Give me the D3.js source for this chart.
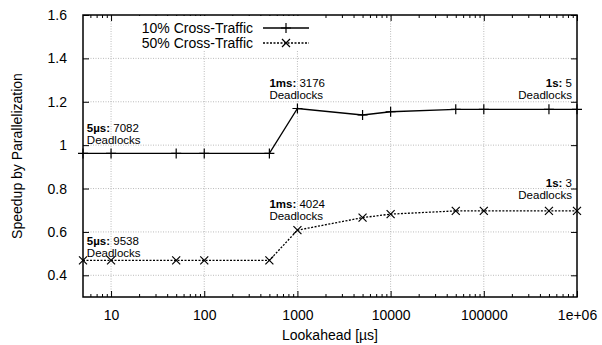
<!DOCTYPE html>
<html>
<head>
<meta charset="utf-8">
<script src="https://cdn.jsdelivr.net/npm/d3@7"></script>
<style>
  body { margin: 0; background: #fff; }
  svg { display: block; font-family: "Liberation Sans", Arial, Helvetica, sans-serif; }
</style>
</head>
<body>
<svg id="chart" width="602" height="345"></svg>
<script>
// lookahead values in µs
const lookahead = [5, 10, 50, 100, 500, 1000, 5000, 10000, 50000, 100000, 500000, 1000000];
const speedup10 = [0.962, 0.962, 0.962, 0.962, 0.962, 1.169, 1.139, 1.154, 1.165, 1.165, 1.165, 1.165];
const speedup50 = [0.469, 0.469, 0.469, 0.469, 0.469, 0.608, 0.666, 0.682, 0.697, 0.697, 0.697, 0.697];

const seriesNames = ["10% Cross-Traffic", "50% Cross-Traffic"];
const xTicks = [10, 100, 1000, 10000, 100000, 1000000];
const yTicks = [0.4, 0.6, 0.8, 1.0, 1.2, 1.4, 1.6];

// deadlock notes: anchor (x in µs, y speedup), bold part, rest
const notes = [
  { x: 5.5, y: 1.06, bold: "5µs:", rest: " 7082", anchor: "start" },
  { x: 500, y: 1.268, bold: "1ms:", rest: " 3176", anchor: "start" },
  { x: 884000, y: 1.268, bold: "1s:", rest: " 5", anchor: "end" },
  { x: 5.5, y: 0.538, bold: "5µs:", rest: " 9538", anchor: "start" },
  { x: 500, y: 0.708, bold: "1ms:", rest: " 4024", anchor: "start" },
  { x: 884000, y: 0.805, bold: "1s:", rest: " 3", anchor: "end" }
];

const width = 602, height = 345;
const margin = { top: 15, right: 25, bottom: 48, left: 83 };
const svg = d3.select("#chart");

const x = d3.scaleLog().domain([5, 1e6]).range([margin.left, width - margin.right]);
const y = d3.scaleLinear().domain([0.3, 1.6]).range([height - margin.bottom, margin.top]);

const x0 = margin.left, x1 = width - margin.right;
const y0 = height - margin.bottom, y1 = margin.top;

// grid
const grid = svg.append("g")
  .attr("stroke", "#aaa")
  .attr("stroke-width", 0.8)
  .attr("stroke-dasharray", "1,1.5");
grid.selectAll("line.gx")
  .data(xTicks.filter(d => d < 1e6))
  .enter().append("line")
  .attr("x1", d => x(d)).attr("x2", d => x(d))
  .attr("y1", y0).attr("y2", y1);
grid.selectAll("line.gy")
  .data(yTicks.filter(d => d < 1.6))
  .enter().append("line")
  .attr("x1", x0).attr("x2", x1)
  .attr("y1", d => y(d)).attr("y2", d => y(d));

// axes (ticks inward on all sides)
const minor = x.ticks().filter(d => !xTicks.includes(d) && d > 5);
const fmtX = d => d === 1e6 ? "1e+06" : String(d);
const fmtY = d => d3.format("")(+d.toFixed(1));

svg.append("g")
  .attr("transform", `translate(0,${y0})`)
  .call(d3.axisBottom(x).tickValues(xTicks).tickFormat(fmtX).tickSize(-6).tickPadding(13))
  .call(g => g.select(".domain").remove());
svg.append("g")
  .attr("transform", `translate(0,${y0})`)
  .call(d3.axisBottom(x).tickValues(minor).tickFormat("").tickSize(-3))
  .call(g => g.select(".domain").remove());
svg.append("g")
  .attr("transform", `translate(0,${y1})`)
  .call(d3.axisTop(x).tickValues(xTicks).tickFormat("").tickSize(-6))
  .call(g => g.select(".domain").remove());
svg.append("g")
  .attr("transform", `translate(0,${y1})`)
  .call(d3.axisTop(x).tickValues(minor).tickFormat("").tickSize(-3))
  .call(g => g.select(".domain").remove());
svg.append("g")
  .attr("transform", `translate(${x0},0)`)
  .call(d3.axisLeft(y).tickValues(yTicks).tickFormat(fmtY).tickSize(-6).tickPadding(16))
  .call(g => g.select(".domain").remove());
svg.append("g")
  .attr("transform", `translate(${x1},0)`)
  .call(d3.axisRight(y).tickValues(yTicks).tickFormat("").tickSize(-6))
  .call(g => g.select(".domain").remove());

svg.selectAll(".tick line").attr("stroke", "#000").attr("stroke-width", 1);
svg.selectAll(".tick text")
  .attr("fill", "#000")
  .style("font-size", "14px")
  .style("font-family", "Liberation Sans, Arial, sans-serif");

svg.append("rect")
  .attr("x", x0).attr("y", y1)
  .attr("width", x1 - x0).attr("height", y0 - y1)
  .attr("fill", "none").attr("stroke", "#000").attr("stroke-width", 1.5);

// axis titles
svg.append("text")
  .attr("x", (x0 + x1) / 2).attr("y", 340)
  .attr("text-anchor", "middle")
  .style("font-size", "14px")
  .text("Lookahead [µs]");
svg.append("text")
  .attr("transform", `translate(22,${(y0 + y1) / 2}) rotate(-90)`)
  .attr("text-anchor", "middle")
  .style("font-size", "14px")
  .text("Speedup by Parallelization");

// series
const series = [
  { values: speedup10, dash: null, marker: "plus" },
  { values: speedup50, dash: "2,1.5", marker: "cross" }
];
const line = d3.line().x(d => x(d[0])).y(d => y(d[1]));

function drawMarker(g, type, cx, cy) {
  const s = type === "plus" ? 5 : 4;
  const p = type === "plus"
    ? `M${cx - s},${cy}H${cx + s}M${cx},${cy - s}V${cy + s}`
    : `M${cx - s},${cy - s}L${cx + s},${cy + s}M${cx - s},${cy + s}L${cx + s},${cy - s}`;
  g.append("path").attr("d", p).attr("stroke", "#000").attr("stroke-width", 1.2).attr("fill", "none");
}

series.forEach(s => {
  const pts = lookahead.map((d, i) => [d, s.values[i]]);
  svg.append("path")
    .datum(pts)
    .attr("d", line)
    .attr("fill", "none")
    .attr("stroke", "#000")
    .attr("stroke-width", 1.3)
    .attr("stroke-dasharray", s.dash);
  const mg = svg.append("g");
  pts.forEach(p => drawMarker(mg, s.marker, x(p[0]), y(p[1])));
});

// notes
notes.forEach(n => {
  const t = svg.append("text")
    .attr("x", x(n.x)).attr("y", y(n.y))
    .attr("text-anchor", n.anchor)
    .style("font-size", "11.5px");
  t.append("tspan").style("font-weight", "bold").text(n.bold);
  t.append("tspan").text(n.rest);
  svg.append("text")
    .attr("x", x(n.x)).attr("y", y(n.y) + 11.5)
    .attr("text-anchor", n.anchor)
    .style("font-size", "11.5px")
    .text("Deadlocks");
});

// legend
const legend = svg.append("g");
legend.append("rect")
  .attr("x", 128).attr("y", y1 + 1)
  .attr("width", 185).attr("height", 35)
  .attr("fill", "#fff");
seriesNames.forEach((name, i) => {
  const ly = 28 + i * 15;
  legend.append("text")
    .attr("x", 253).attr("y", ly + 5)
    .attr("text-anchor", "end")
    .style("font-size", "14px")
    .text(name);
  legend.append("line")
    .attr("x1", 263).attr("x2", 309)
    .attr("y1", ly).attr("y2", ly)
    .attr("stroke", "#000")
    .attr("stroke-width", 1.3)
    .attr("stroke-dasharray", series[i].dash);
  drawMarker(legend, series[i].marker, 286, ly);
});
</script>
</body>
</html>
